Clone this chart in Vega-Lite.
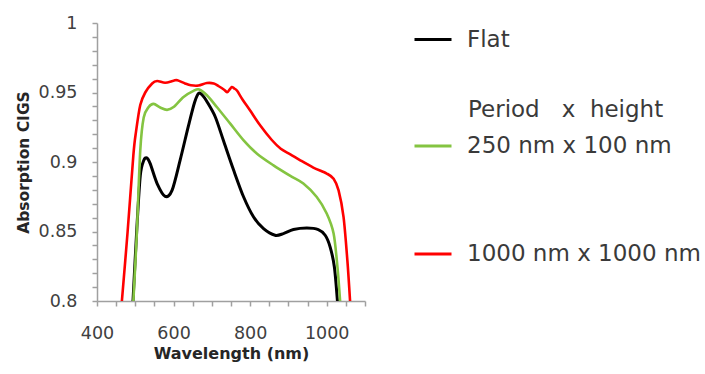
{
  "$schema": "https://vega.github.io/schema/vega-lite/v6.json",
  "width": 268,
  "height": 278,
  "autosize": {"type": "none"},
  "padding": {"left": 97, "top": 23, "right": 340, "bottom": 73},
  "background": "white",
  "config": {
    "view": {"stroke": null},
    "font": "DejaVu Sans",
    "legend": {"padding": 0}
  },
  "data": {
    "values": [
      {"series": "Flat", "wavelength": 494, "absorption": 0.8},
      {"series": "Flat", "wavelength": 504, "absorption": 0.852},
      {"series": "Flat", "wavelength": 513, "absorption": 0.89},
      {"series": "Flat", "wavelength": 522, "absorption": 0.901},
      {"series": "Flat", "wavelength": 530, "absorption": 0.903},
      {"series": "Flat", "wavelength": 539, "absorption": 0.8988},
      {"series": "Flat", "wavelength": 557, "absorption": 0.8845},
      {"series": "Flat", "wavelength": 578, "absorption": 0.8753},
      {"series": "Flat", "wavelength": 596, "absorption": 0.8796},
      {"series": "Flat", "wavelength": 617, "absorption": 0.9012},
      {"series": "Flat", "wavelength": 639, "absorption": 0.9262},
      {"series": "Flat", "wavelength": 655, "absorption": 0.943},
      {"series": "Flat", "wavelength": 666, "absorption": 0.9495},
      {"series": "Flat", "wavelength": 676, "absorption": 0.9478},
      {"series": "Flat", "wavelength": 687, "absorption": 0.9435},
      {"series": "Flat", "wavelength": 709, "absorption": 0.9324},
      {"series": "Flat", "wavelength": 730, "absorption": 0.9156},
      {"series": "Flat", "wavelength": 757, "absorption": 0.894},
      {"series": "Flat", "wavelength": 783, "absorption": 0.8748},
      {"series": "Flat", "wavelength": 809, "absorption": 0.8604},
      {"series": "Flat", "wavelength": 835, "absorption": 0.852},
      {"series": "Flat", "wavelength": 865, "absorption": 0.8473},
      {"series": "Flat", "wavelength": 887, "absorption": 0.8485},
      {"series": "Flat", "wavelength": 913, "absorption": 0.8514},
      {"series": "Flat", "wavelength": 948, "absorption": 0.8525},
      {"series": "Flat", "wavelength": 978, "absorption": 0.8514},
      {"series": "Flat", "wavelength": 996, "absorption": 0.8473},
      {"series": "Flat", "wavelength": 1009, "absorption": 0.8388},
      {"series": "Flat", "wavelength": 1020, "absorption": 0.8245},
      {"series": "Flat", "wavelength": 1028, "absorption": 0.8},

      {"series": "250 nm x 100 nm", "wavelength": 495, "absorption": 0.8},
      {"series": "250 nm x 100 nm", "wavelength": 504, "absorption": 0.8485},
      {"series": "250 nm x 100 nm", "wavelength": 513, "absorption": 0.9084},
      {"series": "250 nm x 100 nm", "wavelength": 522, "absorption": 0.932},
      {"series": "250 nm x 100 nm", "wavelength": 535, "absorption": 0.9396},
      {"series": "250 nm x 100 nm", "wavelength": 548, "absorption": 0.9418},
      {"series": "250 nm x 100 nm", "wavelength": 565, "absorption": 0.9392},
      {"series": "250 nm x 100 nm", "wavelength": 583, "absorption": 0.9375},
      {"series": "250 nm x 100 nm", "wavelength": 600, "absorption": 0.9395},
      {"series": "250 nm x 100 nm", "wavelength": 626, "absorption": 0.9468},
      {"series": "250 nm x 100 nm", "wavelength": 652, "absorption": 0.9512},
      {"series": "250 nm x 100 nm", "wavelength": 667, "absorption": 0.9522},
      {"series": "250 nm x 100 nm", "wavelength": 687, "absorption": 0.948},
      {"series": "250 nm x 100 nm", "wavelength": 713, "absorption": 0.9396},
      {"series": "250 nm x 100 nm", "wavelength": 748, "absorption": 0.9276},
      {"series": "250 nm x 100 nm", "wavelength": 783, "absorption": 0.9156},
      {"series": "250 nm x 100 nm", "wavelength": 818, "absorption": 0.906},
      {"series": "250 nm x 100 nm", "wavelength": 861, "absorption": 0.8976},
      {"series": "250 nm x 100 nm", "wavelength": 905, "absorption": 0.89},
      {"series": "250 nm x 100 nm", "wavelength": 939, "absorption": 0.8845},
      {"series": "250 nm x 100 nm", "wavelength": 974, "absorption": 0.8748},
      {"series": "250 nm x 100 nm", "wavelength": 1000, "absorption": 0.8629},
      {"series": "250 nm x 100 nm", "wavelength": 1018, "absorption": 0.8485},
      {"series": "250 nm x 100 nm", "wavelength": 1028, "absorption": 0.8245},
      {"series": "250 nm x 100 nm", "wavelength": 1035, "absorption": 0.8},

      {"series": "1000 nm x 1000 nm", "wavelength": 465, "absorption": 0.8},
      {"series": "1000 nm x 1000 nm", "wavelength": 480, "absorption": 0.85},
      {"series": "1000 nm x 1000 nm", "wavelength": 495, "absorption": 0.905},
      {"series": "1000 nm x 1000 nm", "wavelength": 502, "absorption": 0.922},
      {"series": "1000 nm x 1000 nm", "wavelength": 513, "absorption": 0.941},
      {"series": "1000 nm x 1000 nm", "wavelength": 526, "absorption": 0.95},
      {"series": "1000 nm x 1000 nm", "wavelength": 544, "absorption": 0.9565},
      {"series": "1000 nm x 1000 nm", "wavelength": 557, "absorption": 0.9583},
      {"series": "1000 nm x 1000 nm", "wavelength": 578, "absorption": 0.957},
      {"series": "1000 nm x 1000 nm", "wavelength": 600, "absorption": 0.9585},
      {"series": "1000 nm x 1000 nm", "wavelength": 610, "absorption": 0.9588},
      {"series": "1000 nm x 1000 nm", "wavelength": 630, "absorption": 0.9565},
      {"series": "1000 nm x 1000 nm", "wavelength": 645, "absorption": 0.9552},
      {"series": "1000 nm x 1000 nm", "wavelength": 665, "absorption": 0.955},
      {"series": "1000 nm x 1000 nm", "wavelength": 687, "absorption": 0.9568},
      {"series": "1000 nm x 1000 nm", "wavelength": 705, "absorption": 0.9565},
      {"series": "1000 nm x 1000 nm", "wavelength": 718, "absorption": 0.9545},
      {"series": "1000 nm x 1000 nm", "wavelength": 732, "absorption": 0.952},
      {"series": "1000 nm x 1000 nm", "wavelength": 740, "absorption": 0.9502},
      {"series": "1000 nm x 1000 nm", "wavelength": 746, "absorption": 0.952},
      {"series": "1000 nm x 1000 nm", "wavelength": 752, "absorption": 0.954},
      {"series": "1000 nm x 1000 nm", "wavelength": 758, "absorption": 0.953},
      {"series": "1000 nm x 1000 nm", "wavelength": 766, "absorption": 0.9512},
      {"series": "1000 nm x 1000 nm", "wavelength": 780, "absorption": 0.945},
      {"series": "1000 nm x 1000 nm", "wavelength": 800, "absorption": 0.937},
      {"series": "1000 nm x 1000 nm", "wavelength": 826, "absorption": 0.9264},
      {"series": "1000 nm x 1000 nm", "wavelength": 856, "absorption": 0.916},
      {"series": "1000 nm x 1000 nm", "wavelength": 880, "absorption": 0.9095},
      {"series": "1000 nm x 1000 nm", "wavelength": 905, "absorption": 0.9055},
      {"series": "1000 nm x 1000 nm", "wavelength": 931, "absorption": 0.9012},
      {"series": "1000 nm x 1000 nm", "wavelength": 965, "absorption": 0.896},
      {"series": "1000 nm x 1000 nm", "wavelength": 1000, "absorption": 0.8917},
      {"series": "1000 nm x 1000 nm", "wavelength": 1018, "absorption": 0.888},
      {"series": "1000 nm x 1000 nm", "wavelength": 1031, "absorption": 0.8796},
      {"series": "1000 nm x 1000 nm", "wavelength": 1044, "absorption": 0.8604},
      {"series": "1000 nm x 1000 nm", "wavelength": 1054, "absorption": 0.829},
      {"series": "1000 nm x 1000 nm", "wavelength": 1061, "absorption": 0.8}
    ]
  },
  "encoding": {
    "x": {
      "field": "wavelength",
      "type": "quantitative",
      "scale": {"domain": [400, 1100], "nice": false, "zero": false},
      "axis": {
        "values": [400, 450, 500, 550, 600, 650, 700, 750, 800, 850, 900, 950, 1000, 1050, 1100],
        "format": "d",
        "labelExpr": "datum.value % 200 === 0 ? datum.label : ''",
        "labelFlush": false,
        "labelOverlap": false,
        "grid": false,
        "domainColor": "#a0a0a0",
        "domainWidth": 1.5,
        "tickColor": "#a0a0a0",
        "tickWidth": 1.5,
        "tickSize": 5,
        "labelFontSize": 17.5,
        "labelColor": "#404040",
        "labelPadding": 18,
        "title": "Wavelength (nm)",
        "titleFontSize": 16,
        "titleFontWeight": "bold",
        "titleColor": "#262626",
        "titlePadding": 4
      }
    },
    "y": {
      "field": "absorption",
      "type": "quantitative",
      "scale": {"domain": [0.8, 1], "nice": false, "zero": false},
      "axis": {
        "values": [0.8, 0.81, 0.82, 0.83, 0.84, 0.85, 0.86, 0.87, 0.88, 0.89, 0.9, 0.91, 0.92, 0.93, 0.94, 0.95, 0.96, 0.97, 0.98, 0.99, 1],
        "labelExpr": "round(datum.value * 100) % 5 === 0 ? format(datum.value, '~g') : ''",
        "labelFlush": false,
        "labelOverlap": false,
        "grid": false,
        "domainColor": "#a0a0a0",
        "domainWidth": 1.5,
        "tickColor": "#a0a0a0",
        "tickWidth": 1.5,
        "tickSize": 5,
        "labelFontSize": 17.5,
        "labelColor": "#404040",
        "labelPadding": 15,
        "title": "Absorption CIGS",
        "titleFontSize": 15.5,
        "titleFontWeight": "bold",
        "titleColor": "#262626",
        "titlePadding": 7
      }
    }
  },
  "layer": [
    {
      "transform": [{"filter": "datum.series === 'Flat'"}],
      "mark": {"type": "line", "interpolate": "cardinal", "tension": 0.1, "strokeWidth": 3, "clip": true},
      "encoding": {
        "color": {
          "field": "series",
          "type": "nominal",
          "scale": {"domain": ["Flat"], "range": ["#000000"]},
          "legend": {
            "title": null,
            "orient": "none",
            "legendX": 316,
            "legendY": -3.5,
            "symbolType": "stroke",
            "symbolSize": 1369,
            "symbolStrokeWidth": 3,
            "labelFontSize": 23,
            "labelColor": "#3a3a3a",
            "labelOffset": 14,
            "labelLimit": 300
          }
        }
      }
    },
    {
      "transform": [{"filter": "datum.series !== 'Flat'"}],
      "mark": {"type": "line", "interpolate": "cardinal", "tension": 0.1, "strokeWidth": 2.6, "clip": true},
      "encoding": {
        "stroke": {
          "field": "series",
          "type": "nominal",
          "scale": {"domain": ["250 nm x 100 nm", "1000 nm x 1000 nm"], "range": ["#84c441", "#ff0000"]},
          "legend": {
            "title": "Period\u00a0\u00a0\u00a0x\u00a0\u00a0height",
            "orient": "none",
            "legendX": 316,
            "legendY": 76,
            "symbolType": "stroke",
            "symbolSize": 1369,
            "symbolStrokeWidth": 3,
            "labelFontSize": 23,
            "labelColor": "#3a3a3a",
            "labelOffset": 14,
            "labelLimit": 300,
            "titleFontSize": 23,
            "titleFontWeight": "normal",
            "titleColor": "#3a3a3a",
            "titleLimit": 300,
            "titlePadding": 4,
            "rowPadding": 76,
            "encode": {"title": {"update": {"dx": {"value": 55}}}}
          }
        }
      }
    }
  ]
}
